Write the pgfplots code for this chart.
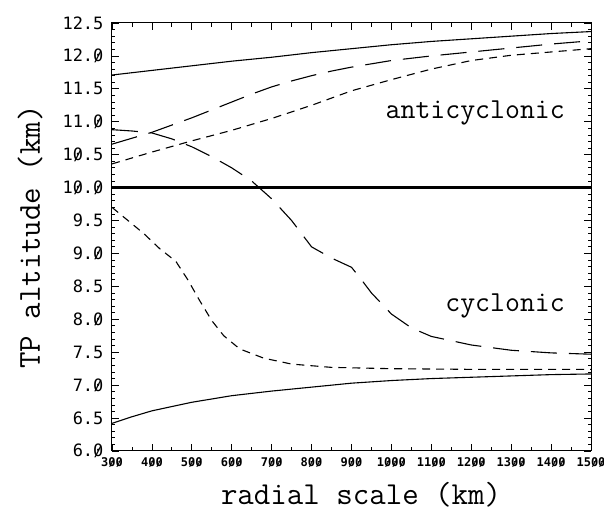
\documentclass[border=0pt]{standalone}
\usepackage{pgfplots}
\pgfplotsset{compat=1.18}
\usepackage{fontspec}
\newfontfamily\tickfont{DejaVu Sans Mono}

% slashed zero for the tick numbers
\newcommand\zr{\ooalign{0\cr\hidewidth\raisebox{0.03em}{\scalebox{0.9}[0.82]{/}}\hidewidth\cr}}

\begin{document}
\begin{tikzpicture}
\begin{axis}[
  scale only axis,
  width=479pt, height=428pt,
  xmin=300, xmax=1500, ymin=6, ymax=12.5,
  axis line style={line width=1pt},
  xtick={300,400,500,600,700,800,900,1000,1100,1200,1300,1400,1500},
  xticklabels={3\zr\zr,4\zr\zr,5\zr\zr,6\zr\zr,7\zr\zr,8\zr\zr,9\zr\zr,1\zr\zr\zr,11\zr\zr,12\zr\zr,13\zr\zr,14\zr\zr,15\zr\zr},
  ytick={6,6.5,7,7.5,8,8.5,9,9.5,10,10.5,11,11.5,12,12.5},
  yticklabels={6.\zr,6.5,7.\zr,7.5,8.\zr,8.5,9.\zr,9.5,1\zr.\zr,1\zr.5,11.\zr,11.5,12.\zr,12.5},
  minor x tick num=1,
  minor y tick num=4,
  tick align=inside,
  major tick length=7pt,
  minor tick length=3.5pt,
  every tick/.style={line width=0.8pt, black},
  xticklabel style={font=\tickfont\bfseries\fontsize{12}{12}\selectfont, yshift=-3pt},
  yticklabel style={font=\tickfont\fontsize{17}{17}\selectfont, xshift=-5pt},
  xlabel={radial scale (km)},
  ylabel={TP altitude (km)},
  xlabel style={font=\ttfamily\fontsize{32}{32}\selectfont, at={(axis description cs:0.52,-0.103)}, anchor=center},
  ylabel style={font=\ttfamily\fontsize{32}{32}\selectfont, at={(axis description cs:-0.171,0.5)}, anchor=center},
  every axis plot/.append style={black, line width=1.1pt},
  clip=true,
]
% anticyclonic branch
\addplot[solid] coordinates {
  (300,11.71) (400,11.78) (500,11.85) (600,11.92) (700,11.98) (800,12.05)
  (900,12.11) (1000,12.17) (1100,12.22) (1200,12.26) (1300,12.30) (1400,12.34) (1500,12.37)};
\addplot[dash pattern=on 26pt off 12pt] coordinates {
  (300,10.66) (350,10.75) (400,10.84) (450,10.95) (500,11.06) (550,11.18)
  (600,11.30) (650,11.42) (700,11.53) (750,11.62) (800,11.70) (850,11.77)
  (900,11.83) (1000,11.93) (1100,12.00) (1200,12.06) (1300,12.12) (1400,12.18) (1500,12.23)};
\addplot[dash pattern=on 8pt off 6pt] coordinates {
  (300,10.36) (400,10.54) (500,10.71) (600,10.87) (700,11.05) (800,11.25)
  (900,11.47) (1000,11.64) (1100,11.80) (1200,11.93) (1300,12.01) (1400,12.06) (1500,12.11)};
% reference level
\addplot[line width=2.6pt] coordinates {(300,10) (1500,10)};
% cyclonic branch
\addplot[dash pattern=on 26pt off 12pt] coordinates {
  (300,10.88) (350,10.86) (400,10.83) (450,10.74) (500,10.62) (550,10.47)
  (600,10.30) (650,10.10) (700,9.83) (750,9.50) (800,9.10) (850,8.93)
  (900,8.79) (925,8.60) (950,8.40) (1000,8.08) (1050,7.87) (1100,7.74)
  (1200,7.61) (1300,7.53) (1400,7.49) (1500,7.47)};
\addplot[dash pattern=on 8pt off 6pt] coordinates {
  (300,9.70) (340,9.50) (380,9.30) (420,9.07) (460,8.88) (490,8.60)
  (520,8.28) (550,7.98) (580,7.75) (620,7.55) (680,7.41) (750,7.32)
  (850,7.27) (1000,7.25) (1200,7.24) (1500,7.24)};
\addplot[solid] coordinates {
  (300,6.42) (350,6.52) (400,6.61) (500,6.74) (600,6.84) (700,6.91) (800,6.97)
  (900,7.03) (1000,7.07) (1100,7.10) (1200,7.12) (1300,7.14) (1400,7.16) (1500,7.17)};
\node[anchor=base east, inner sep=0pt, font=\ttfamily\fontsize{29}{29}\selectfont] at (axis cs:1435,11.05) {anticyclonic};
\node[anchor=base east, inner sep=0pt, font=\ttfamily\fontsize{29}{29}\selectfont] at (axis cs:1435,8.12) {cyclonic};
\end{axis}
\pgfresetboundingbox
\path[use as bounding box] ([shift={(-112pt,-67pt)}]current axis.south west) rectangle ([shift={(492pt,451pt)}]current axis.south west);
\end{tikzpicture}
\end{document}
